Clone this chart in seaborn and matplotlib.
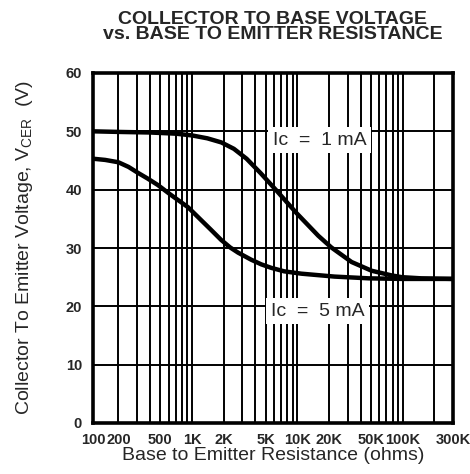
import matplotlib
matplotlib.use("Agg")
import matplotlib.pyplot as plt
import seaborn as sns
import pandas as pd
from matplotlib.ticker import FixedLocator, NullFormatter

# ---- data ----
r_1ma = [116, 200, 400, 700, 1000, 1400, 1900, 2500, 3300, 4500, 6300, 9800,
         15800, 21000, 32700, 50700, 78500, 98000, 150000, 300000]
v_1ma = [50.0, 49.9, 49.8, 49.6, 49.3, 48.8, 48.1, 47.0, 45.3, 42.8, 39.9, 36.0,
         32.1, 30.1, 27.6, 26.1, 25.3, 25.0, 24.8, 24.7]

r_5ma = [116, 150, 200, 250, 306, 380, 474, 631, 916, 1218, 1500, 1888, 2300,
         2742, 3640, 4540, 5650, 7500, 10900, 22500, 47400, 98000, 300000]
v_5ma = [45.3, 45.1, 44.7, 43.9, 42.9, 41.9, 40.8, 39.1, 37.0, 34.8, 33.2, 31.4,
         30.1, 29.2, 28.0, 27.2, 26.6, 26.0, 25.6, 25.1, 24.8, 24.7, 24.7]

x_tick_pos = [115, 200, 500, 1000, 2000, 5000, 10000, 20000, 50000, 100000, 300000]
x_tick_labels = ["100", "200", "500", "1K", "2K", "5K", "10K", "20K", "50K", "100K", "300K"]
x_minor_pos = [300, 400, 600, 700, 800, 900, 3000, 4000, 6000, 7000, 8000, 9000,
               30000, 40000, 60000, 70000, 80000, 90000, 200000]
y_ticks = [0, 10, 20, 30, 40, 50, 60]

series_names = ["Ic = 1 mA", "Ic = 5 mA"]

df = pd.concat([
    pd.DataFrame({"R": r_1ma, "V": v_1ma, "series": series_names[0]}),
    pd.DataFrame({"R": r_5ma, "V": v_5ma, "series": series_names[1]}),
])

sns.set_style("white")
plt.rcParams["font.family"] = ["Liberation Sans", "DejaVu Sans"]
plt.rcParams["mathtext.fontset"] = "custom"
plt.rcParams["mathtext.rm"] = "Liberation Sans"

fig = plt.figure(figsize=(4.7, 4.74), dpi=100)
ax = fig.add_axes([93/470, 1 - 423/474, 360/470, 350/474])

ax.set_xscale("log")
ax.set_xlim(115, 300000)
ax.set_ylim(0, 60)

sns.lineplot(data=df, x="R", y="V", hue="series", palette=["black", "black"],
             linewidth=3.2, legend=False, ax=ax, zorder=3, sort=True)
for ln in ax.lines:
    ln.set_solid_joinstyle("round")
    ln.set_solid_capstyle("round")

ax.xaxis.set_major_locator(FixedLocator(x_tick_pos))
ax.xaxis.set_minor_locator(FixedLocator(x_minor_pos))
ax.xaxis.set_minor_formatter(NullFormatter())
ax.set_xticklabels(x_tick_labels)
ax.set_yticks(y_ticks)

ax.grid(True, which="both", color="black", linewidth=1.4, zorder=1)
ax.set_axisbelow(True)
for s in ax.spines.values():
    s.set_visible(True)
    s.set_color("black")
    s.set_linewidth(2.6)

ax.tick_params(axis="both", which="both", length=0)
ax.tick_params(axis="x", pad=7, labelsize=10.5)
ax.tick_params(axis="y", pad=8, labelsize=10.5)
for lbl in ax.get_xticklabels() + ax.get_yticklabels():
    lbl.set_fontweight("bold")

ax.set_xlabel("Base to Emitter Resistance (ohms)", fontsize=14, labelpad=0)
ax.set_ylabel(r"Collector To Emitter Voltage, V$_{\rm CER}$  (V)", fontsize=14, labelpad=22)

bbox = dict(boxstyle="square,pad=0.25", facecolor="white", edgecolor="none")
ax.text(16200, 48.5, "Ic  =  1 mA", fontsize=14, ha="center", va="center",
        bbox=bbox, zorder=4)
ax.text(15500, 19.2, "Ic  =  5 mA", fontsize=14, ha="center", va="center",
        bbox=bbox, zorder=4)

fig.text(273/470, 1 - 27/474,
         "COLLECTOR TO BASE VOLTAGE\nvs. BASE TO EMITTER RESISTANCE",
         fontsize=14, fontweight="bold", ha="center", va="center",
         linespacing=0.9)

fig.savefig("out.png", dpi=100)
